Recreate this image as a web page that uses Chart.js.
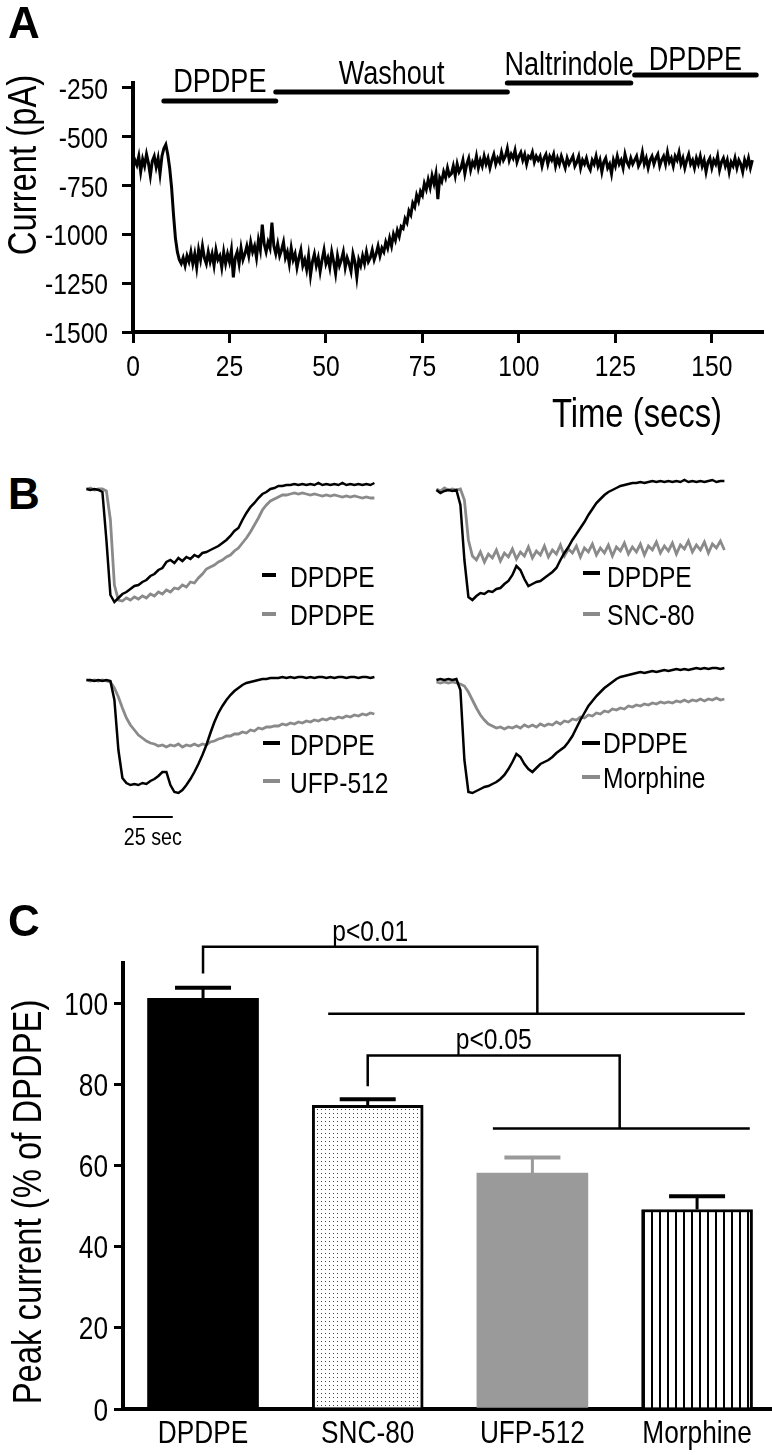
<!DOCTYPE html>
<html>
<head>
<meta charset="utf-8">
<script src="https://cdn.jsdelivr.net/npm/chart.js@4.4.1/dist/chart.umd.min.js"></script>
<style>
body { margin: 0; background: #fff; width: 772px; height: 1455px; overflow: hidden; position: relative; }
canvas { position: absolute; }
.lbl { position: absolute; left: 8px; font: bold 44px "Liberation Sans", Arial, sans-serif; line-height: 44px; color: #000; }
</style>
</head>
<body>
<canvas id="chartA" width="772" height="440" style="left:0;top:0"></canvas>
<canvas id="chartB1" width="340" height="170" style="left:80px;top:465px"></canvas>
<canvas id="chartB2" width="340" height="170" style="left:430px;top:465px"></canvas>
<canvas id="chartB3" width="340" height="200" style="left:80px;top:655px"></canvas>
<canvas id="chartB4" width="340" height="170" style="left:430px;top:655px"></canvas>
<canvas id="chartC" width="772" height="575" style="left:0;top:880px"></canvas>
<div class="lbl" style="top:1px">A</div>
<div class="lbl" style="top:472px">B</div>
<div class="lbl" style="top:899px">C</div>
<script>
// the figure uses a condensed sans; draw Liberation Sans squeezed horizontally
var FONT = "'Liberation Sans', Arial, sans-serif";
var SQUEEZE = 0.82;

// ---- panel A: whole-cell current, one sample every 0.5 s
var sampleStepA = 0.5;
var traceA = [
  -660,-620,-645,-600,-680,-615,-650,-590,-635,-700,
  -625,-600,-655,-610,-690,-600,-560,-540,-590,-660,
  -760,-900,-1020,-1090,-1130,-1150,-1120,-1160,-1110,-1140,
  -1090,-1150,-1100,-1170,-1080,-1130,-1060,-1120,-1150,-1090,
  -1140,-1100,-1160,-1080,-1130,-1110,-1170,-1090,-1150,-1100,
  -1140,-1080,-1220,-1120,-1090,-1150,-1070,-1130,-1100,-1060,
  -1110,-1040,-1090,-1060,-1120,-1030,-1080,-950,-1050,-1090,
  -1040,-1070,-940,-1060,-1100,-1050,-1110,-1080,-1040,-1120,
  -1090,-1150,-1070,-1130,-1100,-1170,-1120,-1080,-1160,-1130,
  -1180,-1110,-1210,-1140,-1100,-1160,-1120,-1190,-1130,-1080,
  -1150,-1120,-1170,-1090,-1140,-1200,-1110,-1160,-1130,-1090,
  -1170,-1120,-1150,-1190,-1100,-1140,-1220,-1130,-1160,-1110,
  -1150,-1090,-1140,-1120,-1080,-1130,-1100,-1060,-1110,-1070,
  -1090,-1040,-1070,-1020,-1060,-1000,-1030,-980,-1010,-960,
  -970,-920,-940,-880,-900,-840,-860,-800,-830,-780,
  -800,-740,-770,-720,-760,-700,-740,-690,-820,-710,
  -730,-680,-710,-660,-700,-690,-650,-700,-640,-680,
  -660,-620,-690,-640,-610,-670,-630,-650,-600,-660,
  -620,-650,-600,-640,-610,-660,-620,-590,-640,-610,
  -630,-580,-620,-600,-560,-620,-590,-610,-570,-630,
  -600,-580,-620,-590,-640,-600,-610,-580,-630,-600,
  -620,-600,-650,-610,-590,-640,-600,-620,-590,-650,
  -610,-640,-600,-630,-660,-610,-640,-620,-600,-650,
  -630,-600,-660,-620,-640,-610,-650,-670,-620,-640,
  -600,-650,-620,-680,-630,-610,-660,-640,-690,-620,
  -650,-600,-640,-620,-660,-590,-630,-650,-610,-640,
  -620,-600,-650,-630,-580,-640,-610,-660,-620,-600,
  -640,-610,-590,-650,-620,-600,-640,-580,-630,-610,
  -650,-600,-620,-580,-640,-610,-660,-620,-590,-640,
  -620,-660,-610,-640,-600,-650,-620,-680,-630,-610,
  -660,-620,-640,-600,-670,-630,-610,-650,-620,-680,
  -630,-650,-610,-660,-620,-640,-680,-620,-650,-610,
  -660,-620
];
var xTicksA = [0, 25, 50, 75, 100, 125, 150];
var yTicksA = [-1500, -1250, -1000, -750, -500, -250];
var eventLabels = ['DPDPE', 'Washout', 'Naltrindole', 'DPDPE'];
var eventStart = [8, 37, 97, 130];
var eventEnd = [37, 97, 129, 161.5];

// ---- panel B: example traces (pA relative to baseline), one sample every 2.5 s from t = 4 s
var tStartB = 4;
var stepB = 2.5;
var namesB = [['DPDPE', 'DPDPE'], ['DPDPE', 'SNC-80'], ['DPDPE', 'UFP-512'], ['DPDPE', 'Morphine']];
var b1Black = [0,-10,0,-10,-30,-510,-1060,-1130,-1090,-1050,-1030,-1000,-970,-960,-930,-910,-870,-850,-810,-790,-730,-710,-740,-690,-720,-680,-700,-660,-680,-640,-630,-610,-590,-570,-540,-510,-470,-420,-390,-310,-240,-180,-140,-90,-50,-30,0,10,30,30,40,40,50,40,50,40,50,40,60,40,50,40,50,40,60,40,50,40,50,40,50,40,60];
var b1Gray = [0,10,-10,0,0,-20,-310,-960,-1110,-1120,-1090,-1110,-1080,-1100,-1070,-1090,-1050,-1070,-1030,-1050,-1010,-1030,-990,-1000,-960,-980,-930,-940,-890,-850,-800,-780,-760,-730,-710,-680,-660,-620,-590,-540,-490,-430,-360,-290,-210,-160,-120,-100,-80,-60,-60,-50,-40,-50,-40,-50,-60,-50,-60,-70,-60,-70,-60,-70,-80,-70,-80,-70,-80,-90,-80,-90,-90];
var b2Black = [-10,-40,-20,-10,-20,-10,-160,-710,-1080,-1110,-1070,-1040,-1050,-1020,-1030,-1000,-990,-950,-920,-860,-770,-810,-900,-970,-950,-930,-920,-890,-860,-830,-790,-710,-640,-580,-510,-450,-390,-330,-260,-200,-140,-100,-60,-30,-10,10,30,40,50,60,60,70,60,70,80,70,80,70,80,70,80,70,90,70,80,70,80,70,80,90,70,80,80];
var b2Gray = [0,-20,10,-10,0,-10,0,-110,-510,-670,-710,-630,-730,-650,-690,-610,-720,-640,-680,-600,-700,-630,-670,-580,-690,-620,-660,-570,-680,-610,-650,-560,-670,-600,-640,-570,-680,-590,-630,-550,-660,-590,-640,-560,-670,-580,-620,-540,-650,-580,-630,-550,-660,-570,-610,-530,-640,-570,-620,-540,-650,-560,-600,-520,-630,-560,-610,-530,-640,-550,-590,-520,-610];
var b3Black = [0,0,-10,0,-10,0,-10,-200,-700,-980,-1030,-1050,-1040,-1050,-1030,-1040,-1010,-990,-960,-920,-920,-1050,-1120,-1130,-1100,-1050,-990,-920,-840,-750,-650,-530,-420,-330,-260,-200,-150,-110,-80,-50,-30,-20,-10,0,10,10,20,20,20,30,20,30,20,30,30,20,30,20,30,30,20,30,20,30,30,20,30,30,20,30,30,20,30];
var b3Gray = [0,-10,0,-10,0,-10,-20,-80,-170,-280,-380,-450,-500,-550,-580,-610,-630,-640,-660,-650,-670,-650,-660,-640,-670,-650,-660,-640,-660,-640,-650,-620,-610,-590,-580,-560,-560,-540,-540,-520,-530,-500,-510,-480,-490,-470,-470,-460,-460,-440,-450,-430,-440,-420,-430,-410,-420,-400,-410,-390,-400,-380,-390,-370,-380,-360,-370,-350,-360,-340,-350,-330,-340];
var b4Black = [0,10,0,10,0,10,-100,-800,-1120,-1130,-1110,-1090,-1070,-1060,-1040,-1020,-990,-950,-890,-820,-740,-770,-840,-890,-920,-880,-840,-820,-800,-770,-730,-700,-670,-620,-560,-480,-400,-330,-260,-210,-160,-120,-80,-50,-20,10,30,40,50,60,70,80,70,80,90,80,90,100,90,100,110,100,110,100,110,120,110,120,110,120,120,110,120];
var b4Gray = [-20,-30,-20,-30,-20,-30,-40,-60,-120,-200,-280,-350,-400,-440,-460,-480,-470,-490,-470,-480,-460,-480,-450,-470,-450,-470,-440,-460,-440,-450,-420,-440,-410,-420,-390,-400,-370,-380,-350,-360,-330,-340,-310,-320,-290,-300,-280,-290,-260,-270,-250,-260,-240,-250,-230,-240,-220,-230,-220,-230,-210,-220,-200,-220,-200,-210,-190,-210,-190,-200,-180,-200,-190];
var scaleBarSec = 25;

// ---- panel C: peak current, % of DPDPE
var catsC = ['DPDPE', 'SNC-80', 'UFP-512', 'Morphine'];
var peakC = [101.3, 74.9, 58.2, 49.2];
var semC = [2.6, 1.5, 3.8, 3.3];
var yTicksC = [0, 20, 40, 60, 80, 100];
var bracketText = ['p<0.01', 'p<0.05'];
var bracketFrom = [0, 1];
var bracketFromY = [107.4, 79.6];
var bracketTopY = [114.0, 87.2];
var bracketTo = [2.03, 2.53];
var bracketGroupY = [97.5, 69.2];
var bracketGroupStart = [0.76, 1.76];
var bracketGroupEnd = [3.29, 3.32];

var GRAY = '#8a8a8a';

// condensed text helper (rot = true for vertical titles)
function text(ctx, str, x, y, size, align, baseline, rot) {
  ctx.save();
  ctx.font = size + 'px ' + FONT;
  ctx.fillStyle = '#000';
  ctx.textAlign = align || 'left';
  ctx.textBaseline = baseline || 'alphabetic';
  ctx.translate(x, y);
  if (rot) ctx.rotate(-Math.PI / 2);
  ctx.scale(SQUEEZE, 1);
  ctx.fillText(str, 0, 0);
  ctx.restore();
}

// ================= A =================
var annotA = {
  id: 'annotA',
  afterDraw: function (chart) {
    var ctx = chart.ctx, x = chart.scales.x, y = chart.scales.y;
    var barY = [101, 92, 83, 75], textY = [92, 84, 75, 70];
    ctx.save();
    ctx.strokeStyle = '#000';
    ctx.lineWidth = 5;
    ctx.lineCap = 'round';
    for (var i = 0; i < eventLabels.length; i++) {
      var x0 = x.getPixelForValue(eventStart[i]), x1 = x.getPixelForValue(eventEnd[i]);
      ctx.beginPath();
      ctx.moveTo(x0, barY[i]);
      ctx.lineTo(x1, barY[i]);
      ctx.stroke();
      text(ctx, eventLabels[i], (x0 + x1) / 2, textY[i], 33, 'center');
    }
    ctx.restore();
    xTicksA.forEach(function (v) { text(ctx, String(v), x.getPixelForValue(v), 376, 30, 'center'); });
    yTicksA.forEach(function (v) { text(ctx, String(v), 108, y.getPixelForValue(v) + 11, 30, 'right'); });
    text(ctx, 'Time (secs)', 722, 427, 40, 'right');
    text(ctx, 'Current (pA)', 25, 165, 40, 'center', 'middle', true);
  }
};

new Chart(document.getElementById('chartA'), {
  type: 'line',
  data: {
    datasets: [{
      data: traceA.map(function (v, i) { return { x: i * sampleStepA, y: v }; }),
      borderColor: '#000',
      borderWidth: 3,
      pointRadius: 0,
      tension: 0
    }]
  },
  options: {
    responsive: false,
    animation: false,
    devicePixelRatio: 1,
    layout: { padding: { top: 83, right: 10, left: 0, bottom: 0 } },
    plugins: { legend: { display: false }, tooltip: { enabled: false } },
    scales: {
      x: {
        type: 'linear', min: 0, max: 163,
        afterBuildTicks: function (s) { s.ticks = xTicksA.map(function (v) { return { value: v }; }); },
        afterFit: function (s) { s.height = 108; },
        grid: { drawOnChartArea: false, drawTicks: true, tickLength: 11, color: '#000', lineWidth: 3 },
        border: { display: true, color: '#000', width: 4 },
        ticks: { display: false }
      },
      y: {
        type: 'linear', min: -1500, max: -225,
        afterBuildTicks: function (s) { s.ticks = yTicksA.map(function (v) { return { value: v }; }); },
        afterFit: function (s) { s.width = 133; },
        grid: { drawOnChartArea: false, drawTicks: true, tickLength: 11, color: '#000', lineWidth: 3 },
        border: { display: true, color: '#000', width: 4 },
        ticks: { display: false }
      }
    }
  },
  plugins: [annotA]
});

// ================= B =================
var pxPerSecB = 1.6;

function panelB(id, names, black, gray, yMax, yMin, leg, withScaleBar) {
  var cv = document.getElementById(id);
  var toPts = function (arr) { return arr.map(function (v, i) { return { x: tStartB + i * stepB, y: v }; }); };
  var legendB = {
    id: 'legendB',
    afterDraw: function (chart) {
      var ctx = chart.ctx;
      ctx.save();
      ctx.lineWidth = 4;
      [['#000', leg.rows[0]], [GRAY, leg.rows[1]]].forEach(function (r, k) {
        ctx.strokeStyle = r[0];
        ctx.beginPath();
        ctx.moveTo(leg.dash[0], r[1][0]);
        ctx.lineTo(leg.dash[1], r[1][0]);
        ctx.stroke();
        text(ctx, names[k], leg.text, r[1][1], 30, 'left');
      });
      if (withScaleBar) {
        var xs = chart.scales.x;
        var x0 = xs.getPixelForValue(33), x1 = xs.getPixelForValue(33 + scaleBarSec);
        ctx.strokeStyle = '#000';
        ctx.lineWidth = 2;
        ctx.beginPath();
        ctx.moveTo(x0, 162);
        ctx.lineTo(x1, 162);
        ctx.stroke();
        text(ctx, scaleBarSec + ' sec', (x0 + x1) / 2, 190, 24, 'center');
      }
      ctx.restore();
    }
  };
  new Chart(cv, {
    type: 'line',
    data: {
      datasets: [
        { data: toPts(black), borderColor: '#000', borderWidth: 2.5, pointRadius: 0, tension: 0 },
        { data: toPts(gray), borderColor: GRAY, borderWidth: 2.8, pointRadius: 0, tension: 0 }
      ]
    },
    options: {
      responsive: false,
      animation: false,
      devicePixelRatio: 1,
      layout: { padding: 0 },
      plugins: { legend: { display: false }, tooltip: { enabled: false } },
      scales: {
        x: { type: 'linear', display: false, min: 0, max: cv.width / pxPerSecB },
        y: { type: 'linear', display: false, min: yMin, max: yMax }
      }
    },
    plugins: [legendB]
  });
}

panelB('chartB1', namesB[0], b1Black, b1Gray, 240, -1460, { dash: [182, 196], text: 210, rows: [[110, 122], [149, 160]] }, false);
panelB('chartB2', namesB[1], b2Black, b2Gray, 240, -1460, { dash: [153, 170], text: 177, rows: [[108, 122], [149, 160]] }, false);
panelB('chartB3', namesB[2], b3Black, b3Gray, 250, -1750, { dash: [183, 200], text: 210, rows: [[88, 100], [126, 138]] }, true);
panelB('chartB4', namesB[3], b4Black, b4Gray, 250, -1450, { dash: [152, 170], text: 173, rows: [[88, 98], [122, 133]] }, false);

// ================= C =================
function makePattern(kind) {
  var p = document.createElement('canvas');
  var c = p.getContext('2d');
  if (kind === 'dots') {
    p.width = 4; p.height = 4;
    c.fillStyle = '#fff'; c.fillRect(0, 0, 4, 4);
    c.fillStyle = '#444'; c.fillRect(1, 1, 1, 1);
  } else {
    p.width = 8; p.height = 8;
    c.fillStyle = '#fff'; c.fillRect(0, 0, 8, 8);
    c.fillStyle = '#000'; c.fillRect(3, 0, 2, 8);
  }
  var main = document.getElementById('chartC').getContext('2d');
  return main.createPattern(p, 'repeat');
}

var annotC = {
  id: 'annotC',
  afterDatasetsDraw: function (chart) {
    var ctx = chart.ctx, x = chart.scales.x, y = chart.scales.y;
    var errColor = ['#000', '#000', '#9a9a9a', '#000'];
    ctx.save();
    ctx.lineCap = 'butt';
    for (var i = 0; i < peakC.length; i++) {
      var px = x.getPixelForValue(i), yb = y.getPixelForValue(peakC[i]), yt = y.getPixelForValue(peakC[i] + semC[i]);
      ctx.strokeStyle = errColor[i];
      ctx.lineWidth = 3;
      ctx.beginPath(); ctx.moveTo(px, yb); ctx.lineTo(px, yt); ctx.stroke();
      ctx.lineWidth = 4;
      ctx.beginPath(); ctx.moveTo(px - 28, yt); ctx.lineTo(px + 28, yt); ctx.stroke();
    }
    ctx.strokeStyle = '#000';
    ctx.lineWidth = 2.5;
    for (var j = 0; j < bracketText.length; j++) {
      var xf = x.getPixelForValue(bracketFrom[j]), xt = x.getPixelForValue(bracketTo[j]);
      var yf = y.getPixelForValue(bracketFromY[j]), ytop = y.getPixelForValue(bracketTopY[j]), yg = y.getPixelForValue(bracketGroupY[j]);
      ctx.beginPath();
      ctx.moveTo(xf, yf); ctx.lineTo(xf, ytop); ctx.lineTo(xt, ytop); ctx.lineTo(xt, yg);
      ctx.moveTo(x.getPixelForValue(bracketGroupStart[j]), yg); ctx.lineTo(x.getPixelForValue(bracketGroupEnd[j]), yg);
      ctx.stroke();
      text(ctx, bracketText[j], (xf + xt) / 2, ytop - 6, 30, 'center');
    }
    ctx.restore();
    yTicksC.forEach(function (v) { text(ctx, String(v), 108, y.getPixelForValue(v) + 11.5, 32, 'right'); });
    catsC.forEach(function (c, i) { text(ctx, c, x.getPixelForValue(i), 563, 32, 'center'); });
    text(ctx, 'Peak current (% of DPDPE)', 30, 322, 40, 'center', 'middle', true);
  }
};

new Chart(document.getElementById('chartC'), {
  type: 'bar',
  data: {
    datasets: [{
      data: peakC.map(function (v, i) { return { x: i, y: v }; }),
      backgroundColor: ['#000', makePattern('dots'), '#9a9a9a', makePattern('stripes')],
      borderColor: ['#000', '#000', '#9a9a9a', '#000'],
      borderWidth: [0, 3, 0, 3],
      borderSkipped: 'bottom',
      barThickness: 111
    }]
  },
  options: {
    responsive: false,
    animation: false,
    devicePixelRatio: 1,
    layout: { padding: { top: 83, right: 0, left: 0, bottom: 0 } },
    plugins: { legend: { display: false }, tooltip: { enabled: false } },
    scales: {
      x: {
        type: 'linear', min: -0.486, max: 3.455, offset: false,
        afterBuildTicks: function (s) { s.ticks = catsC.map(function (c, i) { return { value: i }; }); },
        afterFit: function (s) { s.height = 46; },
        grid: { display: true, drawOnChartArea: false, drawTicks: false },
        border: { display: true, color: '#000', width: 4 },
        ticks: { display: false }
      },
      y: {
        type: 'linear', min: 0, max: 110,
        afterBuildTicks: function (s) { s.ticks = yTicksC.map(function (v) { return { value: v }; }); },
        afterFit: function (s) { s.width = 123; },
        grid: { drawOnChartArea: false, drawTicks: true, tickLength: 9, color: '#000', lineWidth: 3 },
        border: { display: true, color: '#000', width: 4 },
        ticks: { display: false }
      }
    }
  },
  plugins: [annotC]
});
</script>
</body>
</html>
